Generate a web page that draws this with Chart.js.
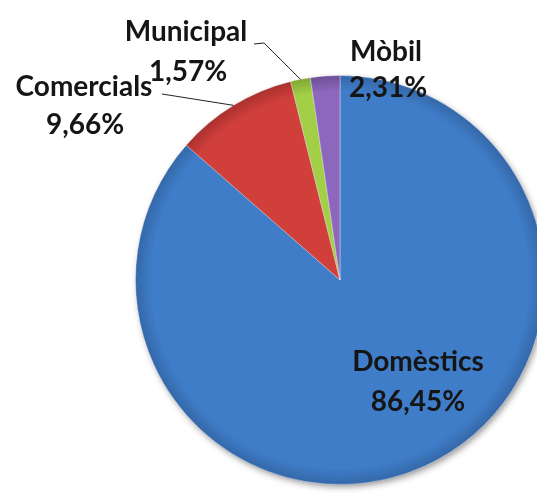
<!DOCTYPE html>
<html>
<head>
<meta charset="utf-8">
<script src="https://cdn.jsdelivr.net/npm/chart.js@4.4.1/dist/chart.umd.min.js"></script>
<style>
    html, body { margin: 0; padding: 0; background: #fff; overflow: hidden; }
    #wrap { width: 560px; height: 493px; }
</style>
</head>
<body>
<div id="wrap"><canvas id="pieChart"></canvas></div>
<script>
const categories = ['Domèstics', 'Comercials', 'Municipal', 'Mòbil'];
const shares = [86.45, 9.66, 1.57, 2.31];
const sliceColors = ['#3f7dc8', '#d13f3b', '#a3cf47', '#8d67be'];
const edgeColors = ['#3467a8', '#a8302d', '#7fa632', '#6c4f96'];

// where each label sits, as offsets from the pie centre (px)
const labelSpots = [
    { name: [78, 82], value: [78, 122] },
    { name: [-256, -193], value: [-255, -155], leader: [[-178, -186]] },
    { name: [-154, -248], value: [-152, -208], leader: [[-86, -236], [-76, -237]] },
    { name: [46, -228], value: [48, -192] }
];

function formatShare(v) {
    return v.toFixed(2).replace('.', ',') + '%';
}

function sliceFill(context) {
    let i = context.dataIndex;
    let chart = context.chart;
    let area = chart.chartArea;
    if (!area) return sliceColors[i];
    let cx = (area.left + area.right) / 2;
    let cy = (area.top + area.bottom) / 2;
    let r = Math.min(area.width, area.height) / 2;
    let g = chart.ctx.createRadialGradient(cx, cy, 0, cx, cy, r);
    g.addColorStop(0, sliceColors[i]);
    g.addColorStop(0.92, sliceColors[i]);
    g.addColorStop(1, edgeColors[i]);
    return g;
}

const pieLabels = {
    id: 'pieLabels',
    beforeDatasetsDraw(chart) {
        let arc = chart.getDatasetMeta(0).data[0];
        if (!arc) return;
        let ctx = chart.ctx;
        ctx.save();
        ctx.shadowColor = 'rgba(0,0,0,0.45)';
        ctx.shadowBlur = 7;
        ctx.shadowOffsetX = 2;
        ctx.shadowOffsetY = 3;
        ctx.fillStyle = '#3a70b4';
        ctx.beginPath();
        ctx.arc(arc.x, arc.y, arc.outerRadius - 1, 0, Math.PI * 2);
        ctx.fill();
        ctx.restore();
    },
    afterDatasetsDraw(chart) {
        let ctx = chart.ctx;
        let arcs = chart.getDatasetMeta(0).data;
        ctx.save();
        ctx.font = 'bold 28px Lato, "Open Sans", sans-serif';
        ctx.fillStyle = '#151515';
        ctx.textAlign = 'center';
        ctx.textBaseline = 'middle';
        arcs.forEach((arc, i) => {
            let spot = labelSpots[i];
            let cx = arc.x, cy = arc.y;
            if (spot.leader) {
                let mid = (arc.startAngle + arc.endAngle) / 2;
                ctx.strokeStyle = '#222';
                ctx.lineWidth = 1;
                ctx.beginPath();
                ctx.moveTo(cx + spot.leader[0][0], cy + spot.leader[0][1]);
                spot.leader.slice(1).forEach(p => ctx.lineTo(cx + p[0], cy + p[1]));
                ctx.lineTo(cx + Math.cos(mid) * arc.outerRadius, cy + Math.sin(mid) * arc.outerRadius);
                ctx.stroke();
            }
            ctx.fillText(categories[i], cx + spot.name[0], cy + spot.name[1]);
            ctx.fillText(formatShare(shares[i]), cx + spot.value[0], cy + spot.value[1]);
        });
        ctx.restore();
    }
};

new Chart(document.getElementById('pieChart').getContext('2d'), {
    type: 'pie',
    data: {
        labels: categories,
        datasets: [{
            data: shares,
            backgroundColor: sliceFill,
            borderColor: 'rgba(255,255,255,0.35)',
            borderWidth: 1
        }]
    },
    options: {
        responsive: true,
        maintainAspectRatio: false,
        animation: false,
        layout: { padding: { left: 133, right: 13, top: 75, bottom: 8 } },
        plugins: {
            legend: { display: false },
            tooltip: { enabled: false }
        }
    },
    plugins: [pieLabels]
});
</script>
</body>
</html>
